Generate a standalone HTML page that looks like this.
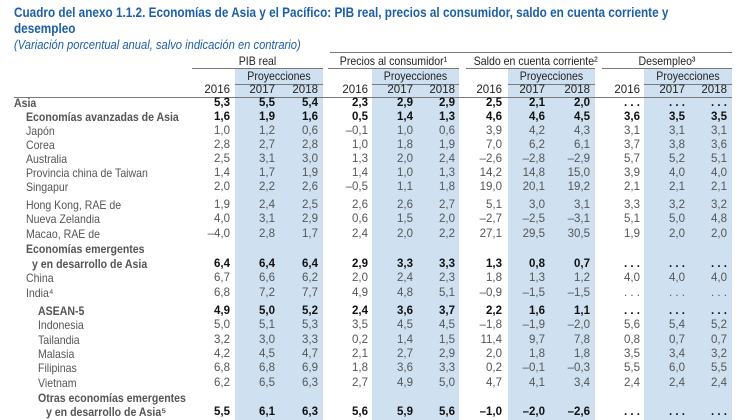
<!DOCTYPE html>
<html><head><meta charset="utf-8"><style>
body{margin:0;width:740px;height:420px;overflow:hidden;background:#fff;font-family:"Liberation Sans",Arial,sans-serif;position:relative}
.a{position:absolute;white-space:nowrap;line-height:14px}
.t{color:#1d5fa6;font-weight:bold;font-size:14px;line-height:16px;transform:scaleX(0.84);transform-origin:left top;left:14px}
.sub{color:#1d5fa6;font-style:italic;font-size:13px;line-height:15px;transform:scaleX(0.86);transform-origin:left top;left:14px;top:37px}
.band{position:absolute;background:#cfe1f1;top:69px;height:351px}
.rule{position:absolute;height:1px;background:#7a7a7a}
.h{font-size:12px;color:#222;transform:scaleX(0.88);}
.n{font-size:11.5px;color:#555;text-align:right;width:40px}
.b{font-weight:bold;color:#111}
.lab{font-size:12px;color:#555;transform:scaleX(0.88);transform-origin:left top}
</style></head><body>
<div class="a t" style="top:4px">Cuadro del anexo 1.1.2. Economías de Asia y el Pacífico: PIB real, precios al consumidor, saldo en cuenta corriente y</div>
<div class="a t" style="top:20px">desempleo</div>
<div class="a sub">(Variación porcentual anual, salvo indicación en contrario)</div>
<div id="tbl"></div>
<script>
const bands=[[235,323],[372,459],[508,595],[644,732]];
const groups=["PIB real","Precios al consumidor¹","Saldo en cuenta corriente²","Desempleo³"];
const groupRules=[[192,323],[328,459],[466,595],[602,732]];
const rightEdges=[230,275,318,368,413,455,502,545,590,640,685,727];
const years=["2016","2017","2018"];
const rows=[
["Asia",14,1,"5,3 5,5 5,4 2,3 2,9 2,9 2,5 2,1 2,0 ... ... ...",103,0],
["Economías avanzadas de Asia",26,1,"1,6 1,9 1,6 0,5 1,4 1,3 4,6 4,6 4,5 3,6 3,5 3,5",117,1],
["Japón",26,0,"1,0 1,2 0,6 –0,1 1,0 0,6 3,9 4,2 4,3 3,1 3,1 3,1",131,0],
["Corea",26,0,"2,8 2,7 2,8 1,0 1,8 1,9 7,0 6,2 6,1 3,7 3,8 3,6",145,0],
["Australia",26,0,"2,5 3,1 3,0 1,3 2,0 2,4 –2,6 –2,8 –2,9 5,7 5,2 5,1",159,0],
["Provincia china de Taiwan",26,0,"1,4 1,7 1,9 1,4 1,0 1,3 14,2 14,8 15,0 3,9 4,0 4,0",173,0],
["Singapur",26,0,"2,0 2,2 2,6 –0,5 1,1 1,8 19,0 20,1 19,2 2,1 2,1 2,1",187,0],
["Hong Kong, RAE de",26,0,"1,9 2,4 2,5 2,6 2,6 2,7 5,1 3,0 3,1 3,3 3,2 3,2",205,0],
["Nueva Zelandia",26,0,"4,0 3,1 2,9 0,6 1,5 2,0 –2,7 –2,5 –3,1 5,1 5,0 4,8",219,0],
["Macao, RAE de",26,0,"–4,0 2,8 1,7 2,4 2,0 2,2 27,1 29,5 30,5 1,9 2,0 2,0",234,0],
["Economías emergentes",26,1,"",249,1],
["y en desarrollo de Asia",32,1,"6,4 6,4 6,4 2,9 3,3 3,3 1,3 0,8 0,7 ... ... ...",264,1],
["China",26,0,"6,7 6,6 6,2 2,0 2,4 2,3 1,8 1,3 1,2 4,0 4,0 4,0",278,0],
["India⁴",26,0,"6,8 7,2 7,7 4,9 4,8 5,1 –0,9 –1,5 –1,5 ... ... ...",293,0],
["ASEAN-5",38,1,"4,9 5,0 5,2 2,4 3,6 3,7 2,2 1,6 1,1 ... ... ...",311,1],
["Indonesia",38,0,"5,0 5,1 5,3 3,5 4,5 4,5 –1,8 –1,9 –2,0 5,6 5,4 5,2",325,0],
["Tailandia",38,0,"3,2 3,0 3,3 0,2 1,4 1,5 11,4 9,7 7,8 0,8 0,7 0,7",340,0],
["Malasia",38,0,"4,2 4,5 4,7 2,1 2,7 2,9 2,0 1,8 1,8 3,5 3,4 3,2",354,0],
["Filipinas",38,0,"6,8 6,8 6,9 1,8 3,6 3,3 0,2 –0,1 –0,3 5,5 6,0 5,5",368,0],
["Vietnam",38,0,"6,2 6,5 6,3 2,7 4,9 5,0 4,7 4,1 3,4 2,4 2,4 2,4",383,0],
["Otras economías emergentes",38,1,"",398,1],
["y en desarrollo de Asia⁵",46,1,"5,5 6,1 6,3 5,6 5,9 5,6 –1,0 –2,0 –2,6 ... ... ...",412,1]
];
const T=document.getElementById('tbl');
function mk(cls,style,text,name){const d=document.createElement('div');d.className=cls;d.style.cssText=style;if(text!==undefined)d.textContent=text;


T.appendChild(d);return d;}
bands.forEach((b,i)=>{mk('band',`left:${b[0]}px;width:${b[1]-b[0]}px`,undefined,'projection-band');
mk('rule',`left:${b[0]}px;width:${b[1]-b[0]}px;top:84px`,undefined,'projection-rule');
mk('a h',`left:${b[0]}px;width:${b[1]-b[0]}px;text-align:center;top:69px`,'Proyecciones','projection-header');});
groups.forEach((g,i)=>{const r=groupRules[i];
mk('a h',`left:${r[0]}px;width:${r[1]-r[0]}px;text-align:center;top:54px`,g,'group-header');
mk('rule',`left:${r[0]}px;width:${r[1]-r[0]}px;top:68px`,undefined,'group-rule');});
mk('rule','left:330px;width:402px;top:52px',undefined,'top-rule');
mk('rule','left:14px;width:718px;top:97px',undefined,'header-bottom-rule');
rightEdges.forEach((x,i)=>mk('a h',`left:${x-40}px;width:40px;text-align:right;top:83px;transform:none;font-size:11.5px`,years[i%3],'year-header'));
rows.forEach(r=>{
 mk('a lab'+(r[2]?' b':''),`left:${r[1]}px;top:${r[4]-7}px`,r[0],'row-label');
 if(r[3]){r[3].split(' ').forEach((v,j)=>{
  mk('a n'+(r[5]||r[0]==='Asia'?' b':''),`left:${rightEdges[j]-40}px;top:${r[4]-7}px`,v==='...'?'. . .':v,'cell-value');});}
});
</script>
</body></html>
